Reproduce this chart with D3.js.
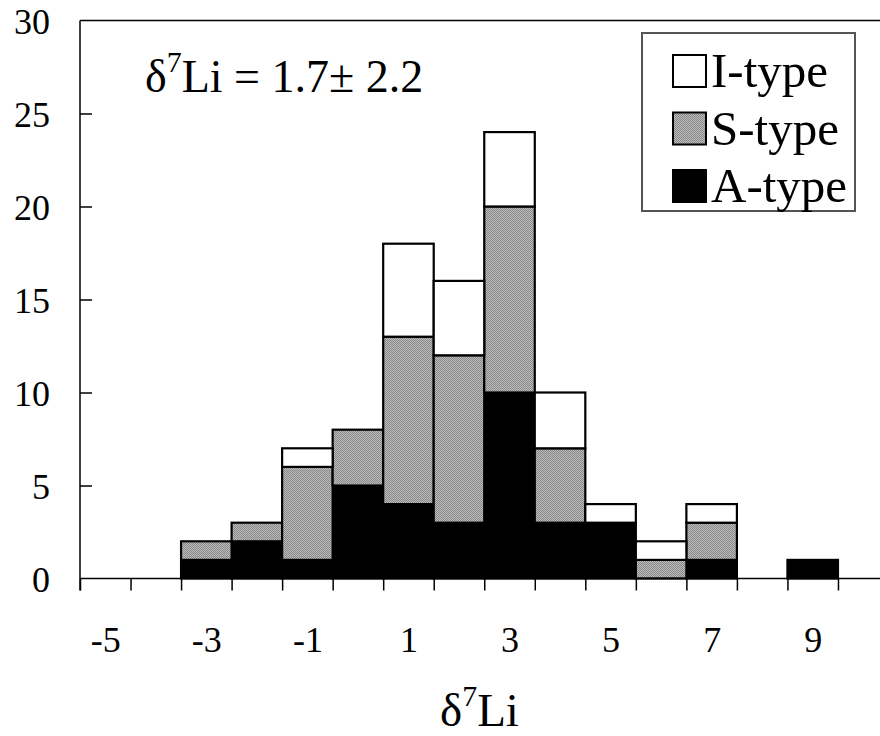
<!DOCTYPE html>
<html>
<head>
<meta charset="utf-8">
<script src="https://cdn.jsdelivr.net/npm/d3@7"></script>
<style>
  html, body { margin: 0; padding: 0; background: #fff; }
  svg { display: block; font-family: "Liberation Serif", "Times New Roman", serif; }
</style>
</head>
<body>
<svg id="chart" width="880" height="736"></svg>
<script>
// δ7Li histogram bins (bin centre values), stacked counts per granite type
const bins  = [-5, -4, -3, -2, -1, 0, 1, 2, 3, 4, 5, 6, 7, 8, 9, 10];
const aType = [0, 0, 1, 2, 1, 5, 4, 3, 10, 3, 3, 0, 1, 0, 1, 0];
const sType = [0, 0, 1, 1, 5, 3, 9, 9, 10, 4, 0, 1, 2, 0, 0, 0];
const iType = [0, 0, 0, 0, 1, 0, 5, 4, 4, 3, 1, 1, 1, 0, 0, 0];
const xLabels = [-5, -3, -1, 1, 3, 5, 7, 9];
const yTicks = [0, 5, 10, 15, 20, 25, 30];
const seriesNames = ["A-type", "S-type", "I-type"];
const legendOrder = ["I-type", "S-type", "A-type"];

const svg = d3.select("#chart");
const plotLeft = 80, plotRight = 888.5, plotTop = 20.5, plotBottom = 578.5;

// gray dithered fill for S-type
const defs = svg.append("defs");
const pat = defs.append("pattern")
  .attr("id", "dots").attr("patternUnits", "userSpaceOnUse")
  .attr("width", 2).attr("height", 2);
pat.append("rect").attr("width", 2).attr("height", 2).attr("fill", "#bcbcbc");
pat.append("rect").attr("width", 1).attr("height", 1).attr("fill", "#888888");
pat.append("rect").attr("x", 1).attr("y", 1).attr("width", 1).attr("height", 1).attr("fill", "#888888");

const fills = { "A-type": "#000", "S-type": "url(#dots)", "I-type": "#fff" };

const x = d3.scaleLinear().domain([bins[0] - 0.5, bins[bins.length - 1] + 0.5]).range([plotLeft, plotRight]);
const y = d3.scaleLinear().domain([0, 30]).range([plotBottom, plotTop]);

// stacked data
const rows = bins.map((b, i) => ({ bin: b, "A-type": aType[i], "S-type": sType[i], "I-type": iType[i] }));
const stack = d3.stack().keys(seriesNames)(rows);

// frame top line
svg.append("line").attr("x1", plotLeft).attr("x2", 880).attr("y1", plotTop).attr("y2", plotTop)
  .attr("stroke", "#000").attr("stroke-width", 1.5);

// bars
stack.forEach(layer => {
  svg.append("g").selectAll("rect")
    .data(layer.filter(d => d[1] - d[0] > 0))
    .join("rect")
    .attr("x", d => x(d.data.bin - 0.5))
    .attr("width", d => x(d.data.bin + 0.5) - x(d.data.bin - 0.5))
    .attr("y", d => y(d[1]))
    .attr("height", d => y(d[0]) - y(d[1]))
    .attr("fill", fills[layer.key])
    .attr("stroke", "#000")
    .attr("stroke-width", 2.2);
});

// x axis: ticks at bin edges
const edges = bins.slice(0, bins.length - 1).map(b => b - 0.5).concat([bins[bins.length - 2] + 0.5]);
const xAxis = svg.append("g").attr("transform", `translate(0,${plotBottom})`)
  .call(d3.axisBottom(x).tickValues(edges).tickSize(12).tickFormat(""));
xAxis.select(".domain").attr("d", `M${plotLeft},0H880`).attr("stroke-width", 1.5);
xAxis.selectAll(".tick line").attr("stroke-width", 1.5);

// x labels at odd bins (plain hyphen for negatives)
svg.append("g").attr("transform", `translate(0,${plotBottom})`)
  .call(d3.axisBottom(x).tickValues(xLabels).tickSize(0).tickPadding(73).tickFormat(d => String(d)))
  .call(g => g.select(".domain").remove())
  .selectAll("text").attr("font-size", 36).attr("font-family", "Liberation Serif").attr("fill", "#000")
  .attr("dy", 0);

// y axis with inward ticks
const yAxis = svg.append("g").attr("transform", `translate(${plotLeft},0)`)
  .call(d3.axisLeft(y).tickValues(yTicks).tickSize(-12).tickPadding(30));
yAxis.select(".domain").attr("d", `M0,${plotTop}V${plotBottom + 12}`).attr("stroke-width", 1.5);
yAxis.selectAll(".tick line").attr("stroke-width", 1.5).filter(d => d === 30 || d === 0).remove();
yAxis.selectAll("text").attr("font-size", 36).attr("font-family", "Liberation Serif")
  .attr("fill", "#000").attr("dy", "0.36em");

// annotation
const ann = svg.append("text").attr("x", 145).attr("y", 92)
  .attr("font-size", 46).attr("fill", "#000");
ann.append("tspan").text("δ");
ann.append("tspan").attr("font-size", 30).attr("dy", -20).text("7");
ann.append("tspan").attr("dy", 20).text("Li = 1.7± 2.2");

// x axis title
const title = svg.append("text").attr("x", 440).attr("y", 726)
  .attr("font-size", 47).attr("fill", "#000");
title.append("tspan").text("δ");
title.append("tspan").attr("font-size", 30).attr("dy", -20).text("7");
title.append("tspan").attr("dy", 20).text("Li");

// legend
const lg = svg.append("g");
lg.append("rect").attr("x", 642).attr("y", 33).attr("width", 213).attr("height", 178)
  .attr("fill", "#fff").attr("stroke", "#555").attr("stroke-width", 2);
legendOrder.forEach((k, i) => {
  const cy = 71 + i * 57.5;
  lg.append("rect").attr("x", 673).attr("y", cy - 16).attr("width", 33).attr("height", 32)
    .attr("fill", fills[k]).attr("stroke", "#000").attr("stroke-width", 2);
  lg.append("text").attr("x", 711).attr("y", cy + 16).attr("font-size", 49)
    .attr("fill", "#000").text(k);
});
</script>
</body>
</html>
